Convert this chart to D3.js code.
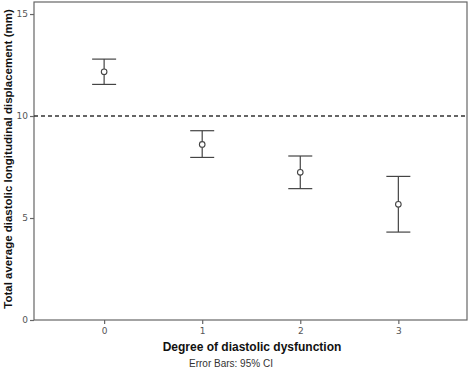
<!DOCTYPE html>
<html>
<head>
<meta charset="utf-8">
<script src="https://cdn.jsdelivr.net/npm/d3@7"></script>
<style>
  body { margin: 0; background: #fff; }
  text { font-family: "Liberation Sans", Arial, sans-serif; }
</style>
</head>
<body>
<svg id="chart" width="472" height="376"></svg>
<script>
// Degree of diastolic dysfunction groups
var groups = [0, 1, 2, 3];
// means and 95% CI bounds (mm)
var means = [12.17, 8.61, 7.24, 5.67];
var lower = [11.55, 7.97, 6.44, 4.31];
var upper = [12.79, 9.28, 8.04, 7.04];
var yTicks = [0, 5, 10, 15];
var refLine = 10;

var plot = { left: 34, right: 467, top: 2, bottom: 320 };

var svg = d3.select("#chart");

var x = d3.scaleLinear()
    .domain([-0.715, 3.7])
    .range([plot.left, plot.right]);

var y = d3.scaleLinear()
    .domain([0, 15.59])
    .range([plot.bottom, plot.top]);

var data = groups.map(function(g, i) {
    return { g: g, mean: means[i], lo: lower[i], hi: upper[i] };
});

// frame
svg.append("rect")
    .attr("x", plot.left)
    .attr("y", plot.top)
    .attr("width", plot.right - plot.left)
    .attr("height", plot.bottom - plot.top)
    .attr("fill", "none")
    .attr("stroke", "#666")
    .attr("stroke-width", 1.2);

// axes
var yAxis = svg.append("g")
    .attr("transform", "translate(" + plot.left + ",0)")
    .call(d3.axisLeft(y).tickValues(yTicks).tickSize(4).tickPadding(2));

var xAxis = svg.append("g")
    .attr("transform", "translate(0," + plot.bottom + ")")
    .call(d3.axisBottom(x).tickValues(groups).tickSize(4).tickPadding(4).tickFormat(d3.format("d")));

[yAxis, xAxis].forEach(function(a) {
    a.select(".domain").remove();
    a.selectAll("line").attr("stroke", "#666").attr("stroke-width", 1.2);
    a.selectAll("text")
        .attr("fill", "#555")
        .style("font-family", "'DejaVu Sans', sans-serif")
        .style("font-size", "9px");
});

// reference line
svg.append("line")
    .attr("x1", plot.left)
    .attr("x2", plot.right)
    .attr("y1", y(refLine))
    .attr("y2", y(refLine))
    .attr("stroke", "#333")
    .attr("stroke-width", 1.3)
    .attr("stroke-dasharray", "4,3");

// error bars
var bars = svg.selectAll(".bar")
    .data(data)
    .enter().append("g")
    .attr("class", "bar");

bars.append("line")
    .attr("x1", function(d) { return x(d.g); })
    .attr("x2", function(d) { return x(d.g); })
    .attr("y1", function(d) { return y(d.lo); })
    .attr("y2", function(d) { return y(d.hi); })
    .attr("stroke", "#444")
    .attr("stroke-width", 1.2);

bars.append("line")
    .attr("x1", function(d) { return x(d.g) - 12; })
    .attr("x2", function(d) { return x(d.g) + 12; })
    .attr("y1", function(d) { return y(d.hi); })
    .attr("y2", function(d) { return y(d.hi); })
    .attr("stroke", "#444")
    .attr("stroke-width", 1.2);

bars.append("line")
    .attr("x1", function(d) { return x(d.g) - 12; })
    .attr("x2", function(d) { return x(d.g) + 12; })
    .attr("y1", function(d) { return y(d.lo); })
    .attr("y2", function(d) { return y(d.lo); })
    .attr("stroke", "#444")
    .attr("stroke-width", 1.2);

bars.append("circle")
    .attr("cx", function(d) { return x(d.g); })
    .attr("cy", function(d) { return y(d.mean); })
    .attr("r", 2.8)
    .attr("fill", "#fff")
    .attr("stroke", "#444")
    .attr("stroke-width", 1.1);

// axis titles
svg.append("text")
    .attr("transform", "translate(12,159) rotate(-90)")
    .attr("text-anchor", "middle")
    .style("font-size", "11.5px")
    .style("font-weight", "bold")
    .attr("fill", "#111")
    .text("Total average diastolic longitudinal displacement (mm)");

svg.append("text")
    .attr("x", 252)
    .attr("y", 351)
    .attr("text-anchor", "middle")
    .style("font-size", "12px")
    .style("font-weight", "bold")
    .attr("fill", "#111")
    .text("Degree of diastolic dysfunction");

svg.append("text")
    .attr("x", 189)
    .attr("y", 367)
    .style("font-size", "10px")
    .attr("fill", "#333")
    .text("Error Bars: 95% CI");
</script>
</body>
</html>
